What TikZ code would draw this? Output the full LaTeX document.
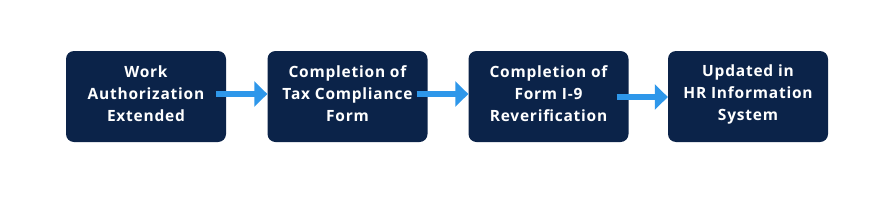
\documentclass[tikz,border=0pt]{standalone}
\usepackage{fontspec}
\setmainfont{Open Sans}[LetterSpace=5]
\usetikzlibrary{arrows.meta}
\definecolor{navy}{HTML}{0B2349}
\definecolor{arrowblue}{HTML}{2E97EA}
\begin{document}
\begin{tikzpicture}[x=1pt,y=1pt,
  stepbox/.style={fill=navy, rounded corners=8pt, minimum width=160pt, minimum height=91pt, inner sep=0pt},
  steptext/.style={text=white, align=center, font=\fontsize{15.5}{22}\selectfont\bfseries, inner sep=0pt},
  flow/.style={draw=arrowblue, line width=6pt, -{Triangle[length=13pt,width=25pt]}}]
\useasboundingbox (0,0) rectangle (891,-220);
\node[stepbox] (b1) at (146,-96.5) {};
\node[stepbox] (b2) at (347.5,-96.5) {};
\node[stepbox] (b3) at (548.5,-96.5) {};
\node[stepbox] (b4) at (748,-96.5) {};
\node[steptext] (t1) at ([yshift=2.5pt]b1.center) {Work\\Authorization\\Extended};
\node[steptext] (t2) at ([yshift=2.5pt]b2.center) {Completion of\\Tax Compliance\\Form};
\node[steptext] (t3) at ([yshift=2.5pt]b3.center) {Completion of\\Form I-9\\Reverification};
\node[steptext] (t4) at ([yshift=2.5pt]b4.center) {Updated in\\HR Information\\System};
\draw[flow] ([xshift=-10pt,yshift=2.5pt]b1.east) -- ([yshift=2.5pt]b2.west);
\draw[flow] ([xshift=-11pt,yshift=2.5pt]b2.east) -- ([yshift=2.5pt]b3.west);
\draw[flow] ([xshift=-12pt,yshift=-0.5pt]b3.east) -- ([yshift=-0.5pt]b4.west);
\end{tikzpicture}
\end{document}
